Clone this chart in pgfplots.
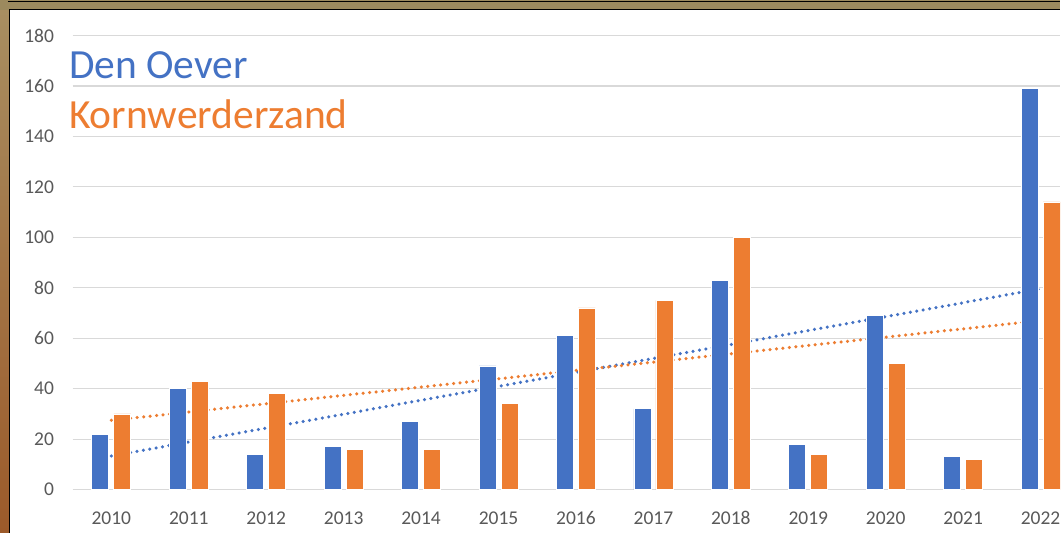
\documentclass[border=0pt]{standalone}
\usepackage{pgfplots}
\usepackage{pgfplotstable}
\pgfplotsset{compat=1.18}
\usepackage{fontspec}
\setmainfont{Carlito}
\definecolor{xblue}{HTML}{4472C4}
\definecolor{xorange}{HTML}{ED7D31}
\definecolor{xgrid}{HTML}{D9D9D9}
\definecolor{xtext}{HTML}{595959}
\definecolor{gold}{HTML}{9C8A5E}
\definecolor{tanA}{HTML}{A88F62}
\definecolor{brownB}{HTML}{9C5A2A}

\pgfplotstableread{
x do kz
0 22 30
1 40 43
2 14 38
3 17 16
4 27 16
5 49 34
6 61 72
7 32 75
8 83 100
9 18 14
10 69 50
11 13 12
12 159 114
}\data

\begin{document}
\begin{tikzpicture}
\fill[white] (0pt,0pt) rectangle (1061pt,533pt);
\shade[top color=tanA, bottom color=brownB] (0pt,0pt) rectangle (9pt,533pt);
\fill[gold] (0pt,523pt) rectangle (1061pt,533pt);
\draw[black, line width=1.5pt] (8pt,531.5pt) -- (1061pt,531.5pt);
\draw[black, line width=1.8pt] (9.5pt,0pt) -- (9.5pt,523.5pt) -- (1061pt,523.5pt);
\begin{axis}[
  at={(72.7pt,43pt)}, anchor=south west,
  scale only axis, width=988.3pt, height=454.5pt,
  xmin=-0.5, xmax=12.252, ymin=0, ymax=180,
  ytick={0,20,...,180},
  xtick={0,...,12},
  xticklabels={2010,2011,2012,2013,2014,2015,2016,2017,2018,2019,2020,2021,2022},
  axis line style={draw=none},
  ymajorgrids, grid style={xgrid, line width=1.2pt},
  tick style={draw=none}, major tick length=0pt,
  ticklabel style={font=\fontsize{19.5}{22}\selectfont, text=xtext, inner sep=0pt},
  yticklabel style={anchor=east, xshift=-18.5pt},
  xticklabel style={anchor=north, yshift=-21.7pt},
  /pgf/number format/assume math mode=true,
]
\addplot[xblue, line width=3.5pt, dash pattern=on 0pt off 6.5pt, line cap=round]
  table[x=x, y={create col/linear regression={y=do}}] {\data};
\addplot[xorange, line width=3.5pt, dash pattern=on 0pt off 6.5pt, line cap=round]
  table[x=x, y={create col/linear regression={y=kz}}] {\data};
\addplot[ybar, bar width=17pt, bar shift=-11pt, fill=xblue, draw=white, line width=0.8pt]
  table[x=x, y=do] {\data};
\addplot[ybar, bar width=17pt, bar shift=11pt, fill=xorange, draw=white, line width=0.8pt]
  table[x=x, y=kz] {\data};
\end{axis}
\node[anchor=base west, inner sep=0pt, text=xblue, font=\fontsize{41.5}{50}\selectfont] at (69pt,454pt) {Den Oever};
\node[anchor=base west, inner sep=0pt, text=xorange, font=\fontsize{41.5}{50}\selectfont] at (69pt,404pt) {Kornwerderzand};
\end{tikzpicture}
\end{document}
